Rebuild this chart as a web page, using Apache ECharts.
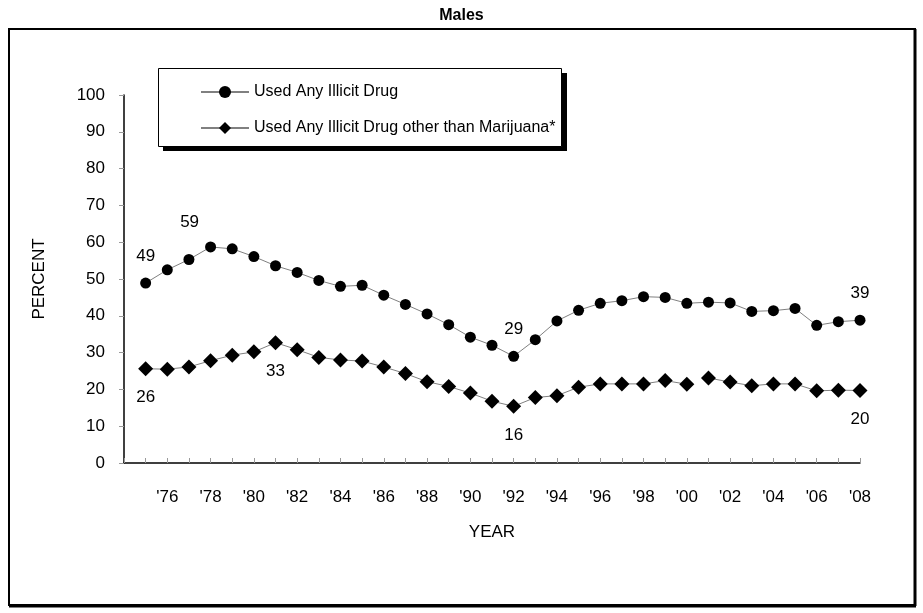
<!DOCTYPE html>
<html>
<head>
<meta charset="utf-8">
<script src="https://cdn.jsdelivr.net/npm/echarts@6/dist/echarts.min.js"></script>
<style>html,body{margin:0;padding:0;background:#fff}#c{width:923px;height:613px}</style>
</head>
<body>
<div id="c"></div>
<script>
var years = [1975,1976,1977,1978,1979,1980,1981,1982,1983,1984,1985,1986,1987,1988,1989,1990,1991,1992,1993,1994,1995,1996,1997,1998,1999,2000,2001,2002,2003,2004,2005,2006,2007,2008];
var anyDrug = [48.9,52.5,55.3,58.7,58.2,56.1,53.6,51.8,49.6,48.0,48.3,45.6,43.1,40.5,37.6,34.2,32.0,29.0,33.5,38.6,41.5,43.4,44.1,45.2,45.0,43.4,43.7,43.5,41.2,41.4,42.0,37.4,38.4,38.8];
var otherDrug = [25.6,25.5,26.1,27.8,29.3,30.2,32.7,30.8,28.7,28.0,27.7,26.1,24.3,22.1,20.8,19.0,16.8,15.4,17.8,18.3,20.6,21.5,21.5,21.5,22.4,21.4,23.1,22.0,21.0,21.5,21.5,19.6,19.8,19.7];
var breakYear = 2001;
var anyLabels = {1975:'49',1978:'59',1992:'29',2008:'39'};
var otherLabels = {1975:'26',1981:'33',1992:'16',2008:'20'};
var name1 = 'Used Any Illicit Drug';
var name2 = 'Used Any Illicit Drug other than Marijuana*';

var FONT = 'Liberation Sans, Arial, sans-serif';
function pts(vals, labels, pos, from, to) {
  var out = [];
  for (var i = 0; i < years.length; i++) {
    var y = years[i];
    if (y < from || y > to) continue;
    var d = {value: [y, vals[i]]};
    if (labels[y]) {
      d.label = {show: true, formatter: labels[y], position: pos, distance: 13, fontSize: 17, color: '#000', fontFamily: FONT};
      if (y === 1978 && pos === 'top') d.label.offset = [-21, 2];
    }
    out.push(d);
  }
  return out;
}
var lineStyle = {color: '#808080', width: 1};
var chart = echarts.init(document.getElementById('c'), null, {renderer: 'canvas'});
chart.setOption({
  animation: false,
  backgroundColor: '#fff',
  title: {text: 'Males', left: 'center', top: 3, textStyle: {fontFamily: FONT, fontSize: 16, fontWeight: 'bold', color: '#000'}},
  graphic: [
    {type: 'rect', shape: {x: 9, y: 29, width: 906, height: 576}, style: {fill: 'none', stroke: '#000', lineWidth: 2}, z: -1},
    {type: 'line', shape: {x1: 915, y1: 29, x2: 915, y2: 606}, style: {stroke: '#000', lineWidth: 3}, z: -1},
    {type: 'line', shape: {x1: 9, y1: 606, x2: 916, y2: 606}, style: {stroke: '#000', lineWidth: 3}, z: -1},
    {type: 'rect', shape: {x: 163, y: 73, width: 404, height: 78}, style: {fill: '#000'}, z: 5},
    {type: 'rect', shape: {x: 158.5, y: 68.5, width: 403, height: 78}, style: {fill: '#fff', stroke: '#000', lineWidth: 1}, z: 6}
  ],
  legend: {
    orient: 'vertical', left: 200, top: 84, padding: 0, itemGap: 20, itemWidth: 48, itemHeight: 15, z: 10,
    data: [{name: name1}, {name: name2}],
    textStyle: {fontFamily: FONT, fontSize: 16, color: '#000'}
  },
  grid: {left: 124, right: 63, top: 95, bottom: 150},
  xAxis: {
    type: 'value', min: 1974, max: 2008, interval: 1,
    name: 'YEAR', nameLocation: 'middle', nameGap: 61,
    nameTextStyle: {fontFamily: FONT, fontSize: 17, color: '#000'},
    axisLine: {lineStyle: {color: '#000', width: 1.5}},
    axisTick: {show: true, inside: true, length: 5, lineStyle: {color: '#999'}},
    splitLine: {show: false},
    axisLabel: {margin: 26, fontFamily: FONT, fontSize: 17, color: '#000',
      formatter: function (v) { return (v >= 1976 && v % 2 === 0) ? "'" + String(v).slice(2) : ''; }}
  },
  yAxis: {
    type: 'value', min: 0, max: 100, interval: 10,
    name: 'PERCENT', nameLocation: 'middle', nameGap: 76, nameRotate: 90,
    nameTextStyle: {fontFamily: FONT, fontSize: 17, color: '#000'},
    axisLine: {show: true, lineStyle: {color: '#000', width: 1.5}},
    axisTick: {show: true, length: 5, lineStyle: {color: '#999'}},
    splitLine: {show: false},
    axisLabel: {margin: 19, fontFamily: FONT, fontSize: 17, color: '#000'}
  },
  series: [
    {name: name1, type: 'line', data: pts(anyDrug, anyLabels, 'top', 1975, 2008), symbol: 'circle', symbolSize: 11,
      itemStyle: {color: '#000'}, lineStyle: lineStyle, z: 3},
    {name: name2, type: 'line', data: pts(otherDrug, otherLabels, 'bottom', 1975, breakYear - 1), symbol: 'diamond', symbolSize: 15,
      itemStyle: {color: '#000'}, lineStyle: lineStyle, z: 3},
    {name: name2, type: 'line', data: pts(otherDrug, otherLabels, 'bottom', breakYear, 2008), symbol: 'diamond', symbolSize: 15,
      itemStyle: {color: '#000'}, lineStyle: lineStyle, z: 3}
  ]
});
</script>
</body>
</html>
